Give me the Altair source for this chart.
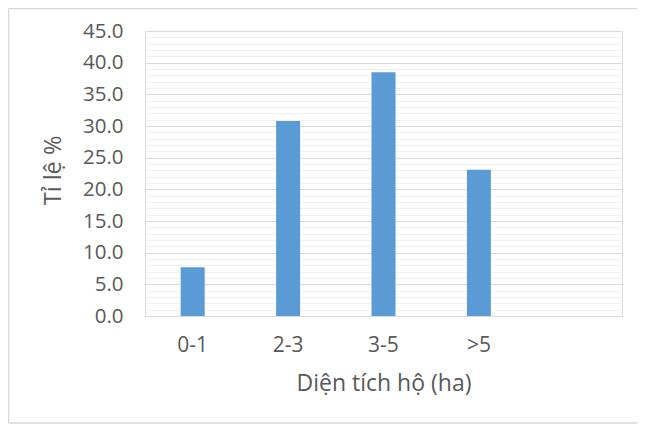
import altair as alt
import pandas as pd

categories = ["0-1", "2-3", "3-5", ">5", " "]
values = [7.7, 30.8, 38.5, 23.1, None]

df = pd.DataFrame({"cat": categories, "val": values})

FONT = "Open Sans"
GREY = "#595959"
GRID = "#d9d9d9"
MINOR = "#f0f0f0"

x_enc = alt.X(
    "cat:N",
    sort=categories,
    scale=alt.Scale(domain=categories, paddingInner=0, paddingOuter=0),
    axis=alt.Axis(
        title="Diện tích hộ (ha)",
        labelAngle=0,
        labelFont=FONT,
        labelFontSize=21,
        labelColor=GREY,
        labelPadding=18,
        ticks=False,
        tickSize=0,
        domain=True,
        domainColor=GRID,
        grid=False,
        titleFont=FONT,
        titleFontSize=23,
        titleFontWeight="normal",
        titleColor=GREY,
        titleY=67,
        titleBaseline="middle",
    ),
)

y_scale = alt.Scale(domain=[0, 45], nice=False)

minor = alt.Chart(df).mark_bar(opacity=0).encode(
    x=x_enc,
    y=alt.Y(
        "val:Q",
        scale=y_scale,
        axis=alt.Axis(
            orient="right",
            values=[v for v in range(46) if v % 5],
            labels=False,
            ticks=False,
            domain=False,
            title=None,
            grid=True,
            gridColor=MINOR,
            gridWidth=1,
        ),
    ),
)

bars = alt.Chart(df).mark_bar(size=24, color="#5b9bd5").encode(
    x=x_enc,
    y=alt.Y(
        "val:Q",
        scale=y_scale,
        axis=alt.Axis(
            title="Tỉ lệ %",
            values=list(range(0, 46, 5)),
            format=".1f",
            labelFont=FONT,
            labelFontSize=20.5,
            labelColor=GREY,
            labelPadding=22,
            ticks=False,
            tickSize=0,
            domain=False,
            grid=True,
            gridColor=GRID,
            gridWidth=1,
            titleFont=FONT,
            titleFontSize=23.5,
            titleFontWeight="normal",
            titleColor=GREY,
            titleAngle=-90,
            titleX=-92,
            titleY=139,
            titleAlign="center",
            titleBaseline="middle",
        ),
    ),
)

frame = alt.Data(values=[{}])
top_line = alt.Chart(frame).mark_rule(color=GRID, strokeWidth=1.5, clip=False).encode(
    x=alt.value(-136.5), x2=alt.value(560), y=alt.value(-22.5)
)
left_line = alt.Chart(frame).mark_rule(color=GRID, strokeWidth=1.5, clip=False).encode(
    x=alt.value(-136.5), y=alt.value(-22.5), y2=alt.value(392)
)
bottom_line = alt.Chart(frame).mark_rule(color=GRID, strokeWidth=1.5, clip=False).encode(
    x=alt.value(-136.5), x2=alt.value(560), y=alt.value(392)
)

chart = (
    alt.layer(minor, bars, top_line, left_line, bottom_line)
    .resolve_axis(y="independent")
    .properties(
        width=477,
        height=285,
        autosize=alt.AutoSizeParams(type="none"),
        padding={"left": 137, "top": 23, "right": 15, "bottom": 108},
    )
    .configure_view(stroke=None)
    .configure(background="white")
)

chart.save("out.html", embed_options={"renderer": "svg", "actions": False})
